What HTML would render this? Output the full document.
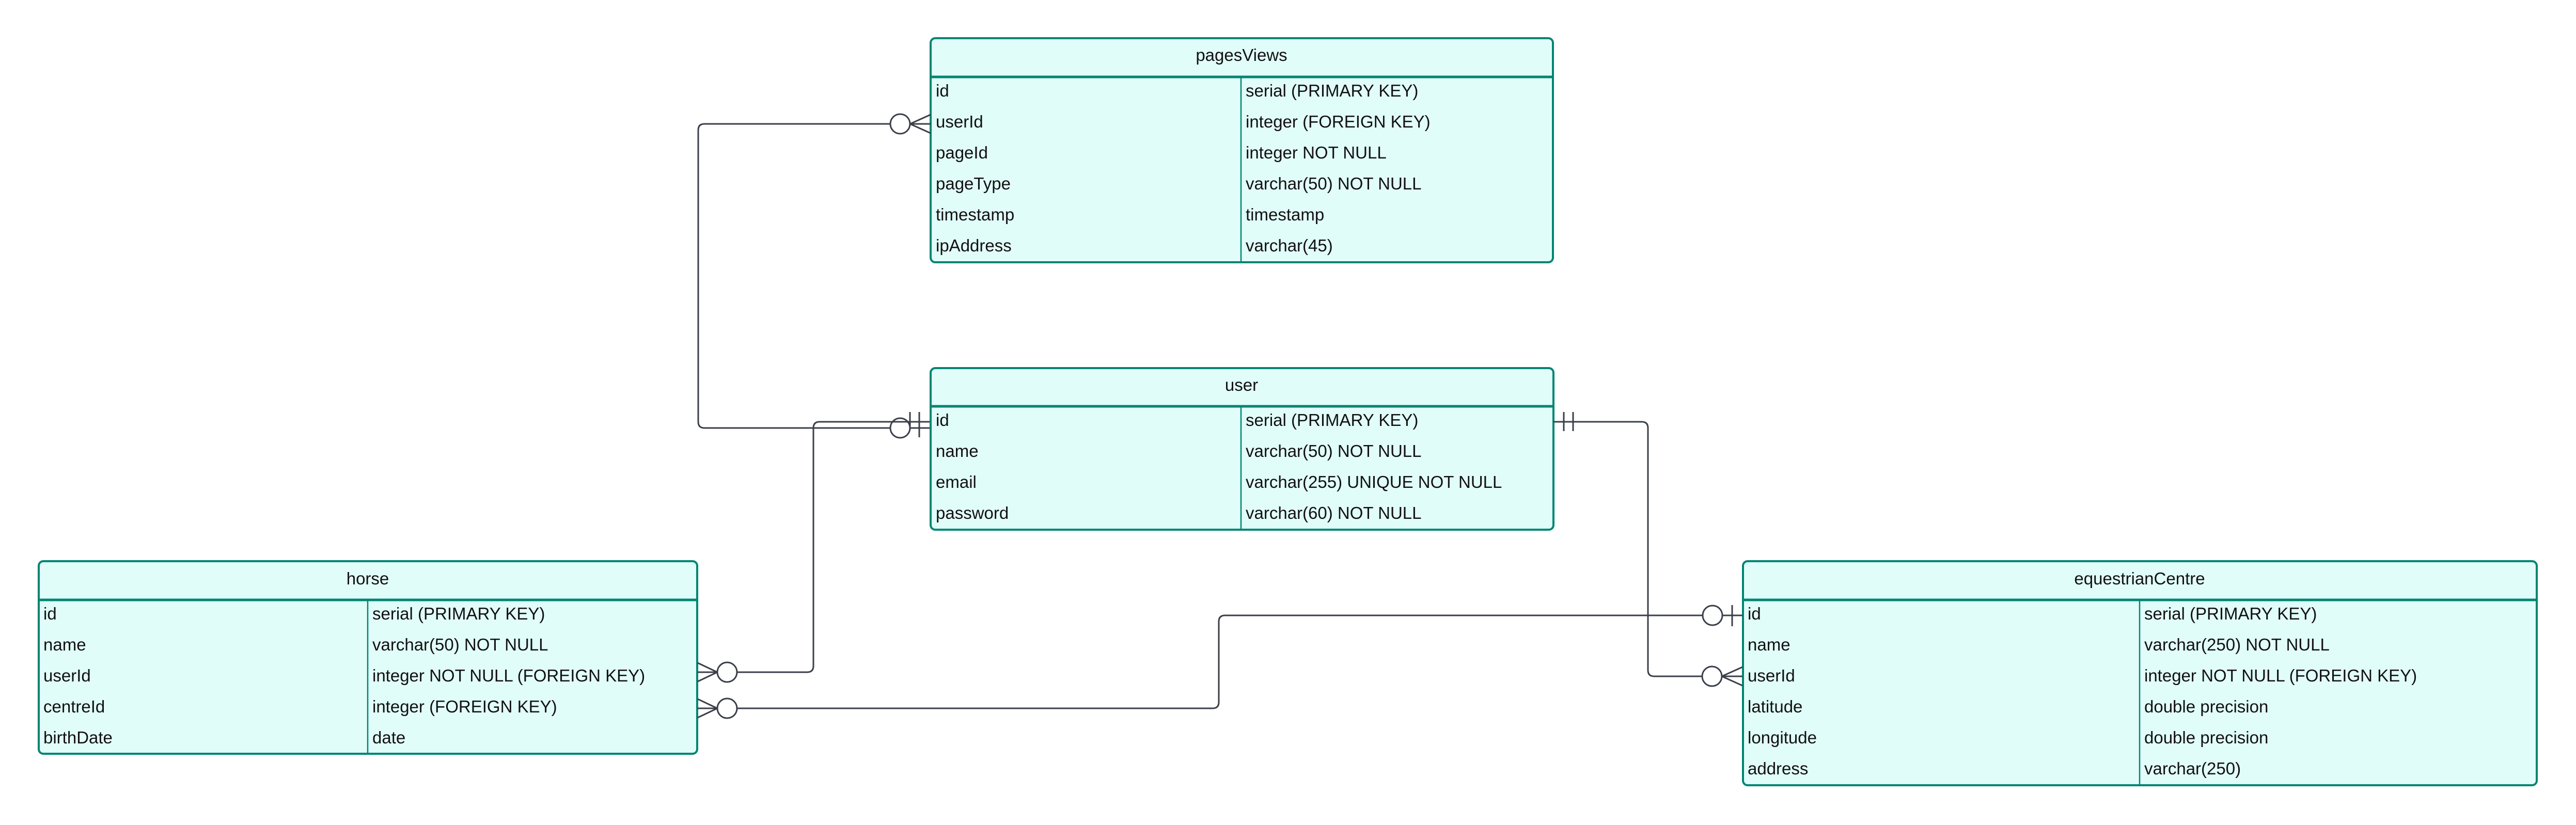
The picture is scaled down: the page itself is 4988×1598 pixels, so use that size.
<!DOCTYPE html>
<html><head><meta charset="utf-8"><style>
html,body{margin:0;padding:0;background:#fff;width:4988px;height:1598px;overflow:hidden}
svg{display:block}
text{font-family:"Liberation Sans",sans-serif;font-size:33px;fill:#111}
</style></head><body>
<svg width="4988" height="1598" viewBox="0 0 4988 1598" xmlns="http://www.w3.org/2000/svg">
<g fill="#e1fdf9" stroke="#008573">
 <rect x="1802" y="74" width="1205" height="434" rx="9" stroke-width="4"/>
 <line x1="1802" y1="149" x2="3007" y2="149" stroke-width="5"/>
 <line x1="2403" y1="149" x2="2403" y2="508" stroke-width="2.5"/>
 <rect x="1802" y="713" width="1206" height="313" rx="9" stroke-width="4"/>
 <line x1="1802" y1="787" x2="3008" y2="787" stroke-width="5"/>
 <line x1="2403" y1="787" x2="2403" y2="1026" stroke-width="2.5"/>
 <rect x="75" y="1087" width="1275" height="373" rx="9" stroke-width="4"/>
 <line x1="75" y1="1162" x2="1350" y2="1162" stroke-width="5"/>
 <line x1="712" y1="1162" x2="712" y2="1460" stroke-width="2.5"/>
 <rect x="3375" y="1087" width="1537" height="434" rx="9" stroke-width="4"/>
 <line x1="3375" y1="1162" x2="4912" y2="1162" stroke-width="5"/>
 <line x1="4143" y1="1162" x2="4143" y2="1521" stroke-width="2.5"/>
</g>
<g transform="translate(0,-4)">
 <text x="2404" y="122" text-anchor="middle">pagesViews</text>
 <text x="1812" y="191">id</text><text x="2412" y="191">serial (PRIMARY KEY)</text>
 <text x="1812" y="251">userId</text><text x="2412" y="251">integer (FOREIGN KEY)</text>
 <text x="1812" y="311">pageId</text><text x="2412" y="311">integer NOT NULL</text>
 <text x="1812" y="371">pageType</text><text x="2412" y="371">varchar(50) NOT NULL</text>
 <text x="1812" y="431">timestamp</text><text x="2412" y="431">timestamp</text>
 <text x="1812" y="491">ipAddress</text><text x="2412" y="491">varchar(45)</text>

 <text x="2404" y="761" text-anchor="middle">user</text>
 <text x="1812" y="829">id</text><text x="2412" y="829">serial (PRIMARY KEY)</text>
 <text x="1812" y="889">name</text><text x="2412" y="889">varchar(50) NOT NULL</text>
 <text x="1812" y="949">email</text><text x="2412" y="949">varchar(255) UNIQUE NOT NULL</text>
 <text x="1812" y="1009">password</text><text x="2412" y="1009">varchar(60) NOT NULL</text>

 <text x="712" y="1136" text-anchor="middle">horse</text>
 <text x="84" y="1204">id</text><text x="721" y="1204">serial (PRIMARY KEY)</text>
 <text x="84" y="1264">name</text><text x="721" y="1264">varchar(50) NOT NULL</text>
 <text x="84" y="1324">userId</text><text x="721" y="1324">integer NOT NULL (FOREIGN KEY)</text>
 <text x="84" y="1384">centreId</text><text x="721" y="1384">integer (FOREIGN KEY)</text>
 <text x="84" y="1444">birthDate</text><text x="721" y="1444">date</text>

 <text x="4143" y="1136" text-anchor="middle">equestrianCentre</text>
 <text x="3384" y="1204">id</text><text x="4152" y="1204">serial (PRIMARY KEY)</text>
 <text x="3384" y="1264">name</text><text x="4152" y="1264">varchar(250) NOT NULL</text>
 <text x="3384" y="1324">userId</text><text x="4152" y="1324">integer NOT NULL (FOREIGN KEY)</text>
 <text x="3384" y="1384">latitude</text><text x="4152" y="1384">double precision</text>
 <text x="3384" y="1444">longitude</text><text x="4152" y="1444">double precision</text>
 <text x="3384" y="1504">address</text><text x="4152" y="1504">varchar(250)</text>
</g>
<g fill="none" stroke="#3b3f4a" stroke-width="3">
 <path d="M1762 240 H1364 Q1352 240 1352 252 V817 Q1352 829 1364 829 H1724"/>
 <path d="M1762 829 H1800"/>
 <circle cx="1743" cy="829" r="19" fill="#fff"/>
 <path d="M1802 222 L1762 240 L1802 258 M1762 240 H1802"/>
 <circle cx="1743" cy="240" r="19" fill="#fff"/>
 <path d="M1800 817 H1587 Q1575 817 1575 829 V1290 Q1575 1302 1563 1302 H1427"/>
 <path d="M1762 798 V832 M1780 798 V847"/>
 <path d="M1351 1284 L1389 1302 L1351 1320 M1351 1302 H1389"/>
 <circle cx="1408" cy="1302" r="19" fill="#fff"/>
 <path d="M1427 1372 H2348 Q2360 1372 2360 1360 V1204 Q2360 1192 2372 1192 H3297"/>
 <path d="M1351 1354 L1389 1372 L1351 1390 M1351 1372 H1389"/>
 <circle cx="1408" cy="1372" r="19" fill="#fff"/>
 <path d="M3335 1192 H3374 M3354 1172 V1213"/>
 <circle cx="3316" cy="1192" r="19" fill="#fff"/>
 <path d="M3008 817 H3179 Q3191 817 3191 829 V1298 Q3191 1310 3203 1310 H3297"/>
 <path d="M3028 798 V835 M3046 798 V835"/>
 <path d="M3374 1292 L3334 1310 L3374 1328 M3334 1310 H3374"/>
 <circle cx="3315" cy="1310" r="19" fill="#fff"/>
</g>
</svg>
</body></html>
